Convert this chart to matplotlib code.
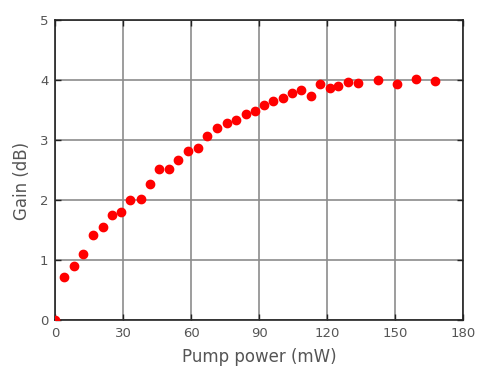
import numpy as np
import matplotlib
matplotlib.use("Agg")
from matplotlib import pyplot as plt

pump_mw = [0.0, 3.8, 8.2, 12.3, 16.4, 20.8, 24.8, 28.8, 32.9, 37.6, 41.7,
           45.9, 50.3, 54.2, 58.7, 62.8, 66.8, 71.2, 75.6, 79.6, 84.0, 88.0,
           92.1, 96.2, 100.3, 104.3, 108.4, 112.7, 116.8, 121.2, 124.9,
           129.3, 133.7, 142.6, 150.7, 159.2, 167.6]
gain_db = [0.0, 0.71, 0.89, 1.10, 1.42, 1.55, 1.75, 1.79, 2.00, 2.01, 2.27,
           2.52, 2.52, 2.67, 2.82, 2.86, 3.06, 3.19, 3.27, 3.33, 3.42, 3.47,
           3.57, 3.64, 3.69, 3.78, 3.82, 3.72, 3.92, 3.86, 3.90,
           3.96, 3.94, 3.99, 3.93, 4.01, 3.97]

x_ticks = [0, 30, 60, 90, 120, 150, 180]
y_ticks = [0, 1, 2, 3, 4, 5]

plt.rcParams['font.family'] = ['DejaVu Sans']

fig = plt.figure(figsize=(4.78, 3.69), dpi=100)
ax = fig.add_axes([0.116, 0.133, 0.853, 0.814])

ax.plot(pump_mw, gain_db, linestyle='none', marker='o', markersize=6,
        color='#ff0000', markeredgecolor='#ff0000', zorder=3)

ax.set_xlim(0, 180)
ax.set_ylim(0, 5)
ax.set_xticks(x_ticks)
ax.set_yticks(y_ticks)
ax.grid(True, color='#8c8c8c', linewidth=1.2)
ax.set_axisbelow(True)
ax.tick_params(direction='in', length=4, width=1, top=True, right=True,
               labelsize=9.5, labelcolor='#555555', color='#222222', pad=5)
for s in ax.spines.values():
    s.set_linewidth(1.2)
    s.set_color('#222222')

ax.set_xlabel('Pump power (mW)', fontsize=12, color='#555555')
ax.set_ylabel('Gain (dB)', fontsize=12, color='#555555')
ax.xaxis.set_label_coords((259 - 55.5) / 407.5, -(357 - 320) / 300)
ax.yaxis.set_label_coords(-(55.5 - 22) / 407.5, (320 - 181) / 300)
ax.xaxis.label.set_va('center')
ax.yaxis.label.set_va('center')

fig.savefig('out.png', dpi=100)
